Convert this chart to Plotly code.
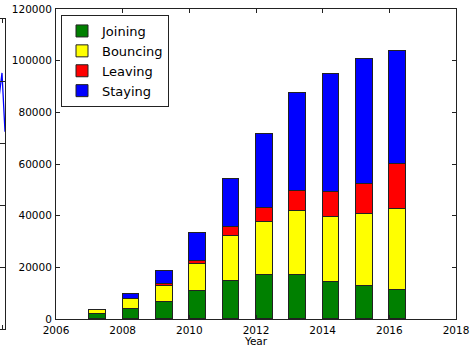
import plotly.graph_objects as go

years = [2007, 2008, 2009, 2010, 2011, 2012, 2013, 2014, 2015, 2016]
joining = [1850, 4000, 6600, 10800, 14700, 16900, 17000, 14300, 12700, 11200]
bouncing = [1450, 3600, 6200, 10400, 17500, 20650, 24800, 25300, 27850, 31350]
leaving = [50, 100, 600, 1300, 3250, 5300, 7900, 9450, 11750, 17450]
staying = [200, 2000, 5200, 10900, 18800, 28650, 37700, 45650, 48500, 43750]

series = [("Joining", joining, "#008000"),
          ("Bouncing", bouncing, "#ffff00"),
          ("Leaving", leaving, "#ff0000"),
          ("Staying", staying, "#0000ff")]

# partial neighbouring subplot (only its right edge is visible)
side_x = [-2, 2, 5]
side_y = [3.6, 4.13, 3.18]

W, H = 470, 347
fig = go.Figure()
for name, vals, col in series:
    fig.add_trace(go.Bar(x=years, y=vals, name=name, width=0.5, offset=0,
                         marker=dict(color=col, line=dict(color="#222222", width=1)),
                         xaxis="x", yaxis="y"))

fig.add_trace(go.Scatter(x=side_x, y=side_y, mode="lines", showlegend=False,
                         line=dict(color="#0000ff", width=1.3), xaxis="x2", yaxis="y2"))

font = dict(family="DejaVu Sans", size=10.5, color="#000000")
axis_common = dict(showgrid=False, zeroline=False, showline=True, linecolor="#222222",
                   linewidth=1, mirror="ticks", ticks="inside", ticklen=4,
                   tickcolor="#222222", automargin=False)

fig.update_layout(
    width=W, height=H,
    margin=dict(l=0, r=0, t=0, b=0),
    paper_bgcolor="white", plot_bgcolor="white",
    barmode="stack",
    bargap=0,
    font=font,
    xaxis=dict(domain=[56 / W, 456 / W], range=[2006, 2018], dtick=2, tick0=2006,
               anchor="y", tickfont=font, ticklabelstandoff=1,
               title=dict(text="Year", font=font), **axis_common),
    yaxis=dict(domain=[(H - 319) / H, (H - 9) / H], range=[0, 120000], dtick=20000,
               tickformat="d", anchor="x", tickfont=font, ticklabelstandoff=1,
               **axis_common),
    xaxis2=dict(domain=[0, 5 / W], range=[0, 5], showticklabels=False, anchor="y2",
                **axis_common),
    yaxis2=dict(domain=[(H - 329) / H, (H - 19) / H], range=[0, 5], dtick=1,
                showticklabels=False, anchor="x2", **axis_common),
    legend=dict(x=61 / W, y=(H - 15) / H, xanchor="left", yanchor="top",
                traceorder="normal", bordercolor="#222222", borderwidth=1,
                bgcolor="white", font=dict(family="DejaVu Sans", size=13, color="#000"),
                tracegroupgap=0, itemwidth=30),
)

fig.write_html("out.html")
